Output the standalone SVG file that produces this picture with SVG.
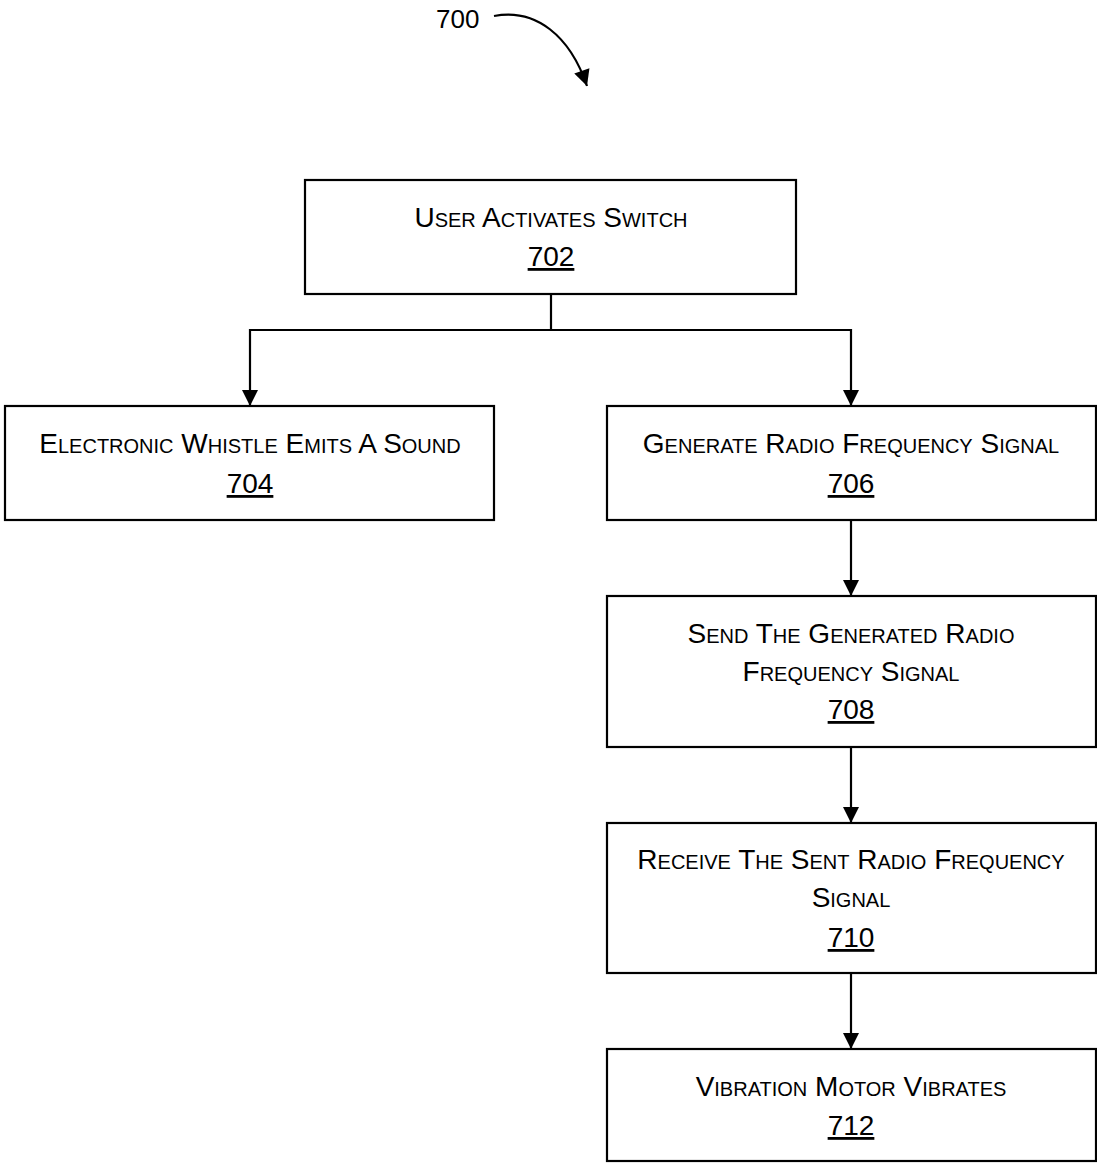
<svg xmlns="http://www.w3.org/2000/svg" width="1097" height="1163" viewBox="0 0 1097 1163">
<style>
.box{fill:#fff;stroke:#000;stroke-width:2.2}
.t{font-family:"Liberation Sans",Arial,sans-serif;font-size:28px;font-variant:small-caps;text-anchor:middle;fill:#000}
.n{font-family:"Liberation Sans",Arial,sans-serif;font-size:28px;text-anchor:middle;fill:#000;text-decoration:underline}
.c{fill:none;stroke:#000;stroke-width:2.2}
</style>
<defs>
<marker id="ah" viewBox="0 0 16 18" refX="16" refY="9" markerWidth="17" markerHeight="18" markerUnits="userSpaceOnUse" orient="auto">
<path d="M0,1 L16,9 L0,17 Z" fill="#000"/>
</marker>
</defs>
<g id="label700">
<text x="436" y="28" style="font-family:'Liberation Sans',Arial,sans-serif;font-size:26px" fill="#000">700</text>
<path class="c" d="M494,16 C536,8 570,36 587,86" marker-end="url(#ah)"/>
</g>
<g id="connectors">
<path class="c" d="M551,294 V330 H250 V406" marker-end="url(#ah)"/>
<path class="c" d="M551,330 H851 V406" marker-end="url(#ah)"/>
<path class="c" d="M851,520 V596" marker-end="url(#ah)"/>
<path class="c" d="M851,747 V823" marker-end="url(#ah)"/>
<path class="c" d="M851,973 V1049" marker-end="url(#ah)"/>
</g>
<g id="n702">
<rect class="box" x="305" y="180" width="491" height="114"/>
<text class="t" x="551" y="227">User Activates Switch</text>
<text class="n" x="551" y="266">702</text>
</g>
<g id="n704">
<rect class="box" x="5" y="406" width="489" height="114"/>
<text class="t" x="250" y="453">Electronic Whistle Emits A Sound</text>
<text class="n" x="250" y="493">704</text>
</g>
<g id="n706">
<rect class="box" x="607" y="406" width="489" height="114"/>
<text class="t" x="851" y="453">Generate Radio Frequency Signal</text>
<text class="n" x="851" y="493">706</text>
</g>
<g id="n708">
<rect class="box" x="607" y="596" width="489" height="151"/>
<text class="t" x="851" y="643">Send The Generated Radio</text>
<text class="t" x="851" y="681">Frequency Signal</text>
<text class="n" x="851" y="719">708</text>
</g>
<g id="n710">
<rect class="box" x="607" y="823" width="489" height="150"/>
<text class="t" x="851" y="869">Receive The Sent Radio Frequency</text>
<text class="t" x="851" y="907">Signal</text>
<text class="n" x="851" y="947">710</text>
</g>
<g id="n712">
<rect class="box" x="607" y="1049" width="489" height="112"/>
<text class="t" x="851" y="1096">Vibration Motor Vibrates</text>
<text class="n" x="851" y="1135">712</text>
</g>
</svg>
